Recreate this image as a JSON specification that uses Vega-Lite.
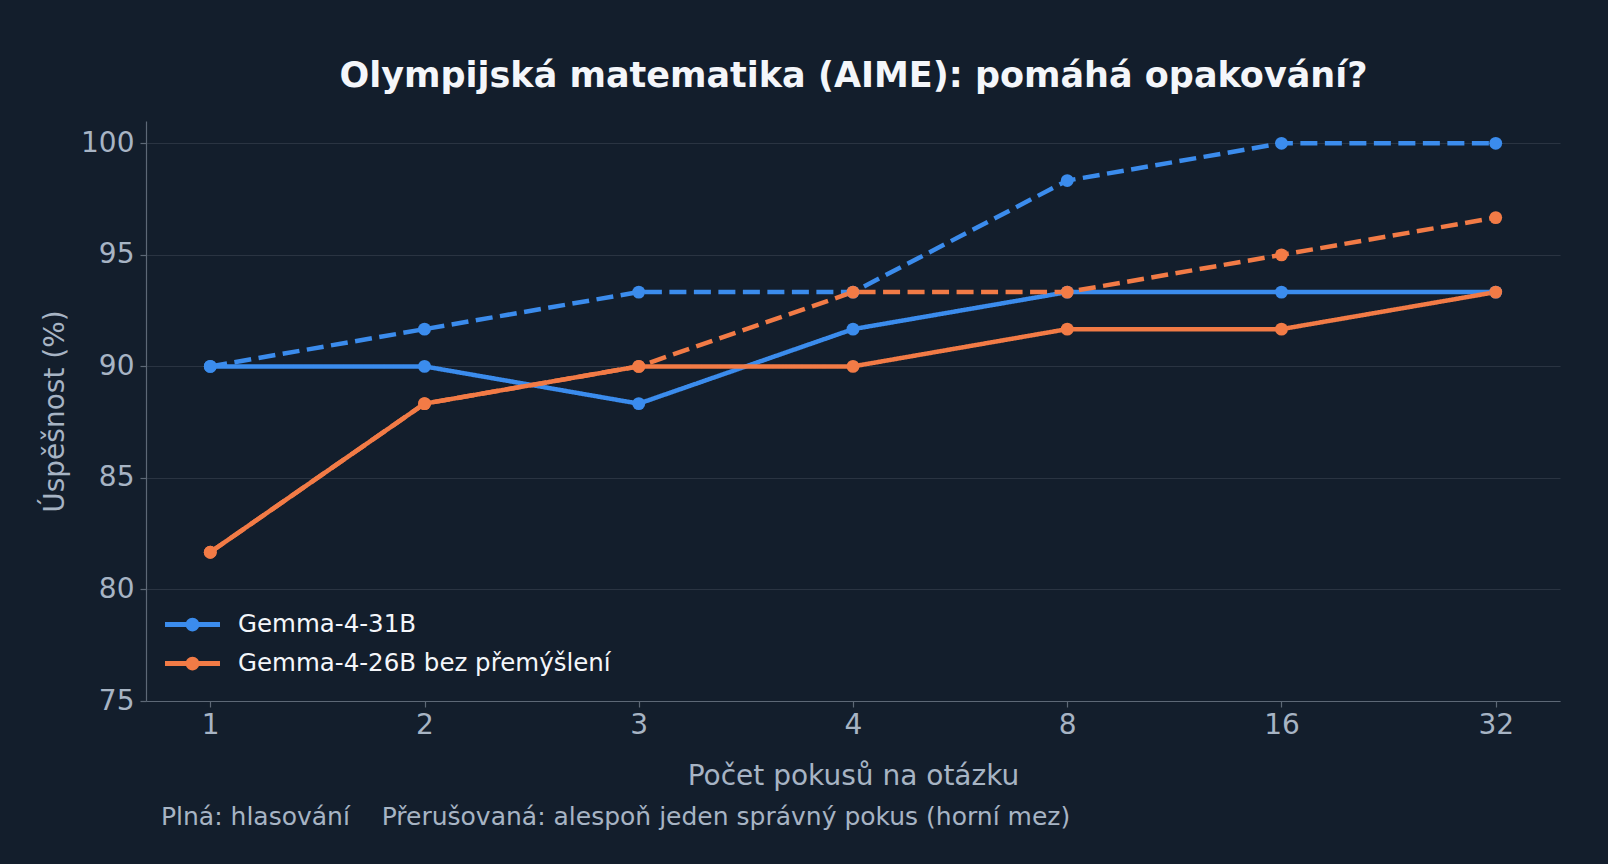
{
  "$schema": "https://vega.github.io/schema/vega-lite/v6.json",
  "background": "#131e2c",
  "autosize": "none",
  "padding": {"left": 146, "top": 121, "right": 48, "bottom": 163},
  "width": 1414,
  "height": 580,
  "title": {
    "text": "Plná: hlasování\u00a0\u00a0\u00a0\u00a0Přerušovaná: alespoň jeden správný pokus (horní mez)",
    "orient": "bottom",
    "anchor": "start",
    "frame": "group",
    "font": "DejaVu Sans",
    "fontSize": 25,
    "fontWeight": "normal",
    "color": "#a7b4c4",
    "offset": 15,
    "dx": 15
  },
  "config": {
    "view": {"stroke": null},
    "font": "DejaVu Sans"
  },
  "data": {
    "values": [
      {"k": "1", "model": "Gemma-4-31B", "druh": "plná", "value": 90},
      {"k": "2", "model": "Gemma-4-31B", "druh": "plná", "value": 90},
      {"k": "3", "model": "Gemma-4-31B", "druh": "plná", "value": 88.33},
      {"k": "4", "model": "Gemma-4-31B", "druh": "plná", "value": 91.67},
      {"k": "8", "model": "Gemma-4-31B", "druh": "plná", "value": 93.33},
      {"k": "16", "model": "Gemma-4-31B", "druh": "plná", "value": 93.33},
      {"k": "32", "model": "Gemma-4-31B", "druh": "plná", "value": 93.33},
      {"k": "1", "model": "Gemma-4-31B", "druh": "přerušovaná", "value": 90},
      {"k": "2", "model": "Gemma-4-31B", "druh": "přerušovaná", "value": 91.67},
      {"k": "3", "model": "Gemma-4-31B", "druh": "přerušovaná", "value": 93.33},
      {"k": "4", "model": "Gemma-4-31B", "druh": "přerušovaná", "value": 93.33},
      {"k": "8", "model": "Gemma-4-31B", "druh": "přerušovaná", "value": 98.33},
      {"k": "16", "model": "Gemma-4-31B", "druh": "přerušovaná", "value": 100},
      {"k": "32", "model": "Gemma-4-31B", "druh": "přerušovaná", "value": 100},
      {"k": "1", "model": "Gemma-4-26B bez přemýšlení", "druh": "plná", "value": 81.67},
      {"k": "2", "model": "Gemma-4-26B bez přemýšlení", "druh": "plná", "value": 88.33},
      {"k": "3", "model": "Gemma-4-26B bez přemýšlení", "druh": "plná", "value": 90},
      {"k": "4", "model": "Gemma-4-26B bez přemýšlení", "druh": "plná", "value": 90},
      {"k": "8", "model": "Gemma-4-26B bez přemýšlení", "druh": "plná", "value": 91.67},
      {"k": "16", "model": "Gemma-4-26B bez přemýšlení", "druh": "plná", "value": 91.67},
      {"k": "32", "model": "Gemma-4-26B bez přemýšlení", "druh": "plná", "value": 93.33},
      {"k": "1", "model": "Gemma-4-26B bez přemýšlení", "druh": "přerušovaná", "value": 81.67},
      {"k": "2", "model": "Gemma-4-26B bez přemýšlení", "druh": "přerušovaná", "value": 88.33},
      {"k": "3", "model": "Gemma-4-26B bez přemýšlení", "druh": "přerušovaná", "value": 90},
      {"k": "4", "model": "Gemma-4-26B bez přemýšlení", "druh": "přerušovaná", "value": 93.33},
      {"k": "8", "model": "Gemma-4-26B bez přemýšlení", "druh": "přerušovaná", "value": 93.33},
      {"k": "16", "model": "Gemma-4-26B bez přemýšlení", "druh": "přerušovaná", "value": 95},
      {"k": "32", "model": "Gemma-4-26B bez přemýšlení", "druh": "přerušovaná", "value": 96.67}
    ]
  },
  "encoding": {
    "y": {
      "field": "value",
      "type": "quantitative",
      "scale": {"domain": [75, 101], "nice": false, "zero": false},
      "title": "Úspěšnost (%)",
      "axis": {
        "values": [75, 80, 85, 90, 95, 100],
        "labelFontSize": 28,
        "labelColor": "#a7b4c4",
        "labelPadding": 6,
        "titleFontSize": 28,
        "titleFontWeight": "normal",
        "titleColor": "#a7b4c4",
        "titlePadding": 11,
        "domainColor": "#5d6876",
        "domainWidth": 1.2,
        "tickColor": "#5d6876",
        "tickSize": 6,
        "tickWidth": 1.2,
        "gridColor": "#2a3442",
        "gridWidth": 1.2
      }
    },
    "color": {
      "field": "model",
      "type": "nominal",
      "scale": {
        "domain": ["Gemma-4-31B", "Gemma-4-26B bez přemýšlení"],
        "range": ["#3b8ced", "#f27b46"]
      },
      "legend": {
        "title": null,
        "orient": "none",
        "legendX": 19,
        "legendY": 476,
        "labelFontSize": 24.5,
        "labelColor": "#f4f6fa",
        "labelLimit": 600,
        "rowPadding": 0,
        "symbolType": "M-1,-0.087L1,-0.087L1,0.087L-1,0.087Z M-0.25,0A0.25,0.25 0 1,1 0.25,0A0.25,0.25 0 1,1 -0.25,0Z",
        "symbolSize": 3025,
        "symbolStrokeWidth": 0,
        "labelOffset": 18,
        "encode": {
          "symbols": {
            "update": {
              "fill": {"scale": "color", "field": "value"},
              "fillOpacity": {"value": 1},
              "strokeWidth": {"value": 0}
            }
          }
        }
      }
    }
  },
  "layer": [
    {
      "mark": {"type": "line", "strokeWidth": 4.5},
      "encoding": {
        "x": {
          "field": "k",
          "type": "ordinal",
          "sort": ["1", "2", "3", "4", "8", "16", "32"],
          "scale": {"type": "point", "padding": 0.3},
          "title": "Počet pokusů na otázku",
          "axis": {
            "orient": "bottom",
            "labelAngle": 0,
            "labelFontSize": 28,
            "labelColor": "#a7b4c4",
            "labelPadding": 4,
            "titleFontSize": 28,
            "titleFontWeight": "normal",
            "titleColor": "#a7b4c4",
            "titlePadding": 23,
            "domainColor": "#5d6876",
            "domainWidth": 1.2,
            "tickColor": "#5d6876",
            "tickSize": 6,
            "tickWidth": 1.2,
            "grid": false
          }
        },
        "strokeDash": {
          "field": "druh",
          "type": "nominal",
          "scale": {"domain": ["plná", "přerušovaná"], "range": [[1, 0], [17, 7.5]]},
          "legend": null
        },
        "detail": {"field": "druh"}
      }
    },
    {
      "mark": {"type": "point", "filled": true, "size": 165, "opacity": 1},
      "encoding": {
        "x": {
          "field": "k",
          "type": "ordinal",
          "sort": ["1", "2", "3", "4", "8", "16", "32"],
          "scale": {"type": "point", "padding": 0.3},
          "title": "Olympijská matematika (AIME): pomáhá opakování?",
          "axis": {
            "orient": "top",
            "labels": false,
            "ticks": false,
            "domain": false,
            "grid": false,
            "titleFont": "DejaVu Sans",
            "titleFontSize": 35,
            "titleFontWeight": "bold",
            "titleColor": "#f4f6fa",
            "titlePadding": 28
          }
        }
      }
    }
  ],
  "resolve": {"axis": {"x": "independent"}}
}
